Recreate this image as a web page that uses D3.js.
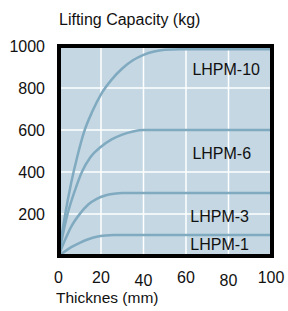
<!DOCTYPE html>
<html>
<head>
<meta charset="utf-8">
<script src="https://cdn.jsdelivr.net/npm/d3@7"></script>
<style>
  body { margin: 0; background: #fff; }
  text { font-family: "Liberation Sans", Arial, sans-serif; fill: #111; }
</style>
</head>
<body>
<div id="chart"></div>
<script>
  // values: [thickness mm, capacity kg]
  const lhpm1 = [[0,0],[3,22],[6,42],[10,63],[14,80],[18,92],[22,98],[26,100],[100,100]];
  const lhpm3 = [[0,0],[3,75],[6,140],[10,200],[14,245],[18,272],[22,288],[26,296],[30,300],[100,300]];
  const lhpm6 = [[0,0],[4,190],[8,320],[11,400],[15,470],[20,520],[25,555],[30,578],[35,593],[40,600],[100,600]];
  const lhpm10 = [[0,0],[3,190],[6,350],[9,480],[12,590],[16,690],[20,770],[25,840],[30,893],[35,932],[40,958],[45,974],[50,982],[57,985],[100,985]];
  const seriesNames = ["LHPM-1", "LHPM-3", "LHPM-6", "LHPM-10"];
  const seriesData = [lhpm1, lhpm3, lhpm6, lhpm10];
  // label anchor in data units
  const labelPos = [[62, 30], [62, 160], [63, 460], [63, 860]];
  const xTicks = [0, 20, 40, 60, 80, 100];
  const yTicks = [200, 400, 600, 800, 1000];
  const xTickShift = [0, 0, 3, 0, 3, 0];

  const width = 288, height = 311;
  const svg = d3.select("#chart").append("svg")
    .attr("width", width).attr("height", height);

  const x = d3.scaleLinear().domain([0, 100]).range([58.5, 271]);
  const y = d3.scaleLinear().domain([0, 1000]).range([256, 46]);

  svg.append("rect")
    .attr("x", x(0)).attr("y", y(1000))
    .attr("width", x(100) - x(0)).attr("height", y(0) - y(1000))
    .attr("fill", "#c4d7e3");

  // grid
  svg.selectAll(".vg").data(xTicks.slice(1, -1)).enter().append("line")
    .attr("x1", d => x(d)).attr("x2", d => x(d))
    .attr("y1", y(1000)).attr("y2", y(0))
    .attr("stroke", "#fff").attr("stroke-width", 1.5);
  svg.selectAll(".hg").data(yTicks.slice(0, -1)).enter().append("line")
    .attr("x1", x(0)).attr("x2", x(100))
    .attr("y1", d => y(d)).attr("y2", d => y(d))
    .attr("stroke", "#fff").attr("stroke-width", 1.5);

  const line = d3.line()
    .x(d => x(d[0]))
    .y(d => y(d[1]))
    .curve(d3.curveMonotoneX);

  svg.selectAll(".curve").data(seriesData).enter().append("path")
    .attr("d", line)
    .attr("fill", "none")
    .attr("stroke", "#80aac0")
    .attr("stroke-width", 2.5);

  svg.selectAll(".lbl").data(seriesNames).enter().append("text")
    .attr("x", (d, i) => x(labelPos[i][0]))
    .attr("y", (d, i) => y(labelPos[i][1]))
    .attr("font-size", 16)
    .text(d => d);

  // frame
  svg.append("rect")
    .attr("x", x(0) + 0.5).attr("y", y(1000))
    .attr("width", x(100) - x(0) + 0.5).attr("height", y(0) - y(1000))
    .attr("fill", "none")
    .attr("stroke", "#000").attr("stroke-width", 4);

  // axes labels
  svg.selectAll(".yt").data(yTicks).enter().append("text")
    .attr("x", 45).attr("y", d => y(d))
    .attr("dy", "0.36em")
    .attr("text-anchor", "end")
    .attr("font-size", 16)
    .text(d => d);
  svg.selectAll(".xt").data(xTicks).enter().append("text")
    .attr("x", d => x(d))
    .attr("y", (d, i) => 283 + xTickShift[i])
    .attr("text-anchor", "middle")
    .attr("font-size", 16)
    .text(d => d);

  svg.append("text").attr("x", 59).attr("y", 25)
    .attr("font-size", 16).text("Lifting Capacity (kg)");
  svg.append("text").attr("x", 56).attr("y", 303)
    .attr("font-size", 15.5).text("Thicknes (mm)");
</script>
</body>
</html>
